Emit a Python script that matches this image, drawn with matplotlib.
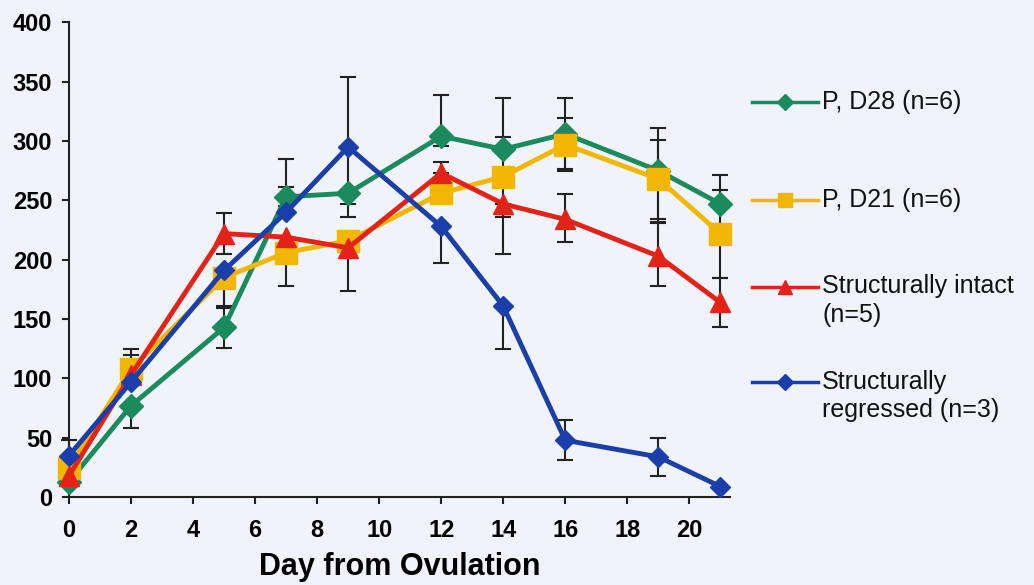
import matplotlib
matplotlib.use("Agg")
import matplotlib.pyplot as plt
from matplotlib.lines import Line2D

plt.rcParams['font.family'] = ['Liberation Sans', 'DejaVu Sans']

days = [0, 2, 5, 7, 9, 12, 14, 16, 19, 21]

d28 = [13, 77, 143, 253, 256, 304, 293, 306, 275, 247]
d28_lo = [0, 19, 17, 8, 9, 8, 0, 30, 41, 0]
d28_hi = [0, 0, 17, 8, 0, 35, 10, 30, 36, 24]

d21 = [25, 108, 185, 206, 216, 256, 270, 297, 268, 222]
d21_lo = [0, 0, 26, 28, 42, 0, 65, 22, 36, 37]
d21_hi = [0, 17, 0, 0, 0, 0, 66, 22, 33, 37]

intact = [18, 103, 222, 219, 210, 273, 247, 234, 203, 164]
intact_lo = [0, 0, 17, 0, 0, 0, 11, 19, 25, 21]
intact_hi = [0, 17, 17, 0, 0, 9, 0, 21, 28, 21]

regressed = [35, 97, 191, 240, 295, 228, 161, 48, 34, 9]
regressed_lo = [0, 0, 30, 0, 59, 31, 36, 17, 16, 0]
regressed_hi = [13, 0, 0, 45, 59, 0, 0, 17, 16, 0]

labels = ["P, D28 (n=6)", "P, D21 (n=6)",
          "Structurally intact\n(n=5)", "Structurally\nregressed (n=3)"]

bg = '#f0f3f9'
fig = plt.figure(figsize=(10.34, 5.85), dpi=100, facecolor=bg)
ax = fig.add_axes([0.0667, 0.150, 0.639, 0.812])
ax.set_facecolor(bg)

series = [
    (d28, d28_lo, d28_hi, '#1b8a5c', 'D', 12),
    (d21, d21_lo, d21_hi, '#f2b705', 's', 15.5),
    (intact, intact_lo, intact_hi, '#e42318', '^', 14.5),
    (regressed, regressed_lo, regressed_hi, '#1a3faa', 'D', 10),
]

for i, (y, lo, hi, c, m, ms) in enumerate(series):
    ax.errorbar(days, y, yerr=[lo, hi], fmt='none', ecolor='#222222',
                elinewidth=1.5, capsize=6, capthick=1.5, zorder=2, clip_on=False)
for i, (y, lo, hi, c, m, ms) in enumerate(series):
    ax.plot(days, y, color=c, lw=3.5, marker=m, ms=ms, mec=c, mfc=c,
            zorder=3 + i, clip_on=False)

ax.set_xlim(0, 21.3)
ax.set_ylim(0, 400)
ax.set_xticks(range(0, 21, 2))
ax.set_yticks(range(0, 401, 50))
ax.spines['top'].set_visible(False)
ax.spines['right'].set_visible(False)
for s in ['left', 'bottom']:
    ax.spines[s].set_linewidth(1.5)
    ax.spines[s].set_color('#222222')
ax.tick_params(axis='both', direction='out', length=5, width=1.5, color='#222222')
ax.tick_params(axis='y', pad=7)
ax.tick_params(axis='x', pad=11)
for t in ax.get_xticklabels() + ax.get_yticklabels():
    t.set_fontsize(17)
    t.set_fontweight('bold')
ax.set_xlabel("Day from Ovulation", fontsize=22, fontweight='bold', labelpad=7)

# legend drawn by hand to match the spacing of the original
leg_y = [102, 200, 287, 382]
leg_ms = [8, 10.5, 10.5, 8]
W, H = 1034, 585
for (y, lo, hi, c, m, ms), ly, lab, lms in zip(series, leg_y, labels, leg_ms):
    yy = 1 - ly / H
    fig.add_artist(Line2D([752 / W, 785 / W, 818 / W], [yy, yy, yy],
                          transform=fig.transFigure, color=c, lw=2.5,
                          marker=m, ms=lms, mfc=c, mec=c, markevery=[1]))
    fig.text(822 / W, yy + 12.5 / H, lab, fontsize=18, va='top', ha='left',
             linespacing=1.25, transform=fig.transFigure, color='#111111')

fig.savefig("out.png", dpi=100, facecolor=bg)
